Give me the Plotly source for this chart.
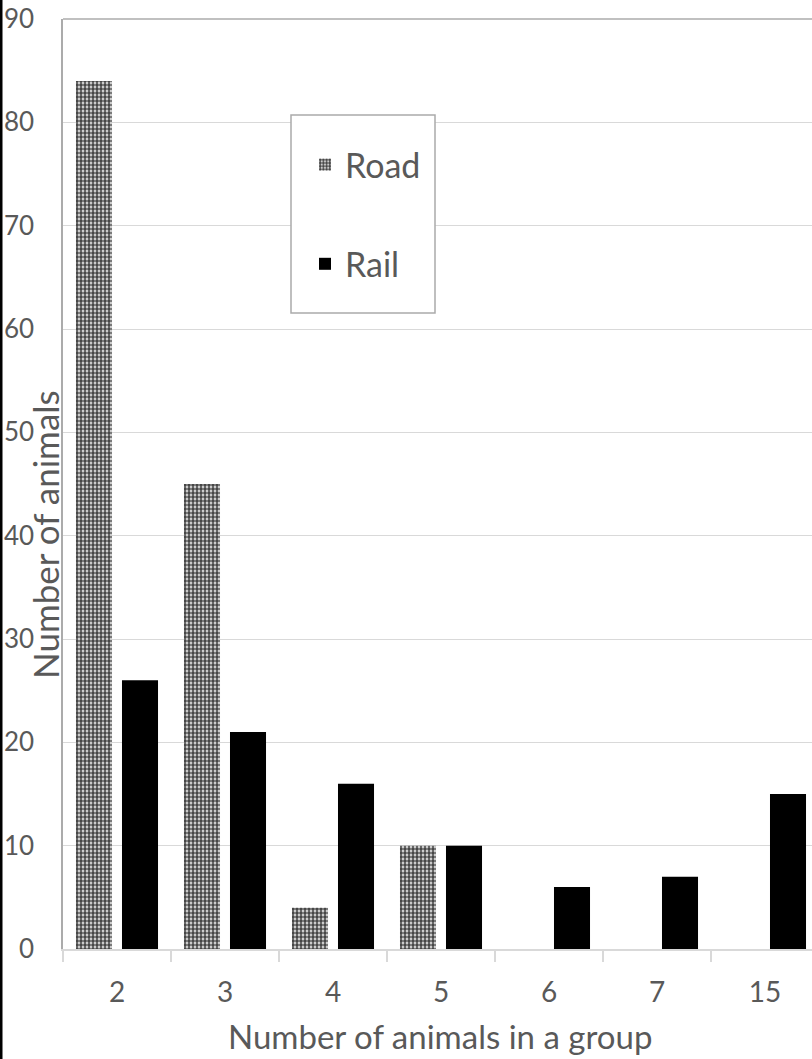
import plotly.graph_objects as go

# Group sizes and counts of animals per transport type
group_sizes = ["2", "3", "4", "5", "6", "7", "15"]
road_counts = [84, 45, 4, 10, 0, 0, 0]
rail_counts = [26, 21, 16, 10, 6, 7, 15]

y_ticks = [0, 10, 20, 30, 40, 50, 60, 70, 80, 90]

TEXT = "#595959"
GRID = "#d9d9d9"
BORDER = "#ababab"
FONT = "Lato"

W, H = 812, 1059
ML, MR, MT, MB = 63, 0, 19, 110
PW = W - ML - MR
PH = H - MT - MB


def px_x(p):
    return (p - ML) / PW


def px_y(p):
    return (H - MB - p) / PH


fig = go.Figure()

fig.add_trace(go.Bar(
    name="Road", x=group_sizes, y=road_counts,
    legendgroup="road",
    marker=dict(
        color="white",
        line=dict(width=0),
        pattern=dict(shape=".", fgcolor="#474747", bgcolor="white",
                     size=4, solidity=0.7, fillmode="replace"),
    ),
))
fig.add_trace(go.Bar(
    name="Rail", x=group_sizes, y=rail_counts,
    legendgroup="rail",
    marker=dict(color="black", line=dict(width=0)),
))

shapes = [
    # top border of the plot frame
    dict(type="line", xref="paper", yref="paper", x0=0, x1=1.02, y0=1, y1=1,
         line=dict(color=BORDER, width=1.5), layer="above"),
    # legend frame
    dict(type="rect", xref="paper", yref="paper",
         x0=px_x(291), x1=px_x(435), y0=px_y(313), y1=px_y(115),
         fillcolor="white", line=dict(color=BORDER, width=1.5), layer="above"),
    # dark strip on the left edge
    dict(type="rect", xref="paper", yref="paper",
         x0=px_x(0), x1=px_x(2.5), y0=px_y(H), y1=px_y(0),
         fillcolor="black", line=dict(width=0), layer="above"),
]

annotations = [
    dict(text="Number of animals in a group", xref="paper", yref="paper",
         x=px_x(440), y=px_y(1036), xanchor="center", yanchor="middle",
         showarrow=False, font=dict(family=FONT, size=33, color=TEXT)),
    dict(text="Number of animals", xref="paper", yref="paper",
         x=px_x(45), y=px_y(535), xanchor="center", yanchor="middle",
         textangle=-90, showarrow=False,
         font=dict(family=FONT, size=35, color=TEXT)),
]

fig.update_layout(
    width=W, height=H,
    margin=dict(l=ML, r=MR, t=MT, b=MB, pad=0, autoexpand=False),
    paper_bgcolor="white", plot_bgcolor="white",
    barmode="group", bargap=0.148, bargroupgap=0.217,
    font=dict(family=FONT, color=TEXT),
    showlegend=True,
    legend=dict(
        x=px_x(305), y=px_y(136), xanchor="left", yanchor="top",
        bgcolor="rgba(0,0,0,0)", borderwidth=0,
        font=dict(family=FONT, size=34, color=TEXT),
        tracegroupgap=52, traceorder="grouped",
    ),
    shapes=shapes,
    annotations=annotations,
)

fig.update_xaxes(
    type="category", categoryorder="array", categoryarray=group_sizes,
    range=[-0.5, -0.5 + PW / 108.0],
    showline=True, linecolor=GRID, linewidth=1.5,
    ticks="outside", ticklen=11, tickcolor=GRID, tickwidth=1.5,
    tickson="boundaries",
    showgrid=False, automargin=False,
    tickfont=dict(family=FONT, size=28, color=TEXT),
    ticklabelstandoff=18,
)

fig.update_yaxes(
    range=[0, 90], tickvals=y_ticks,
    showgrid=True, gridcolor=GRID, gridwidth=1,
    zeroline=False, automargin=False,
    showline=True, linecolor=BORDER, linewidth=1.5,
    ticks="",
    tickfont=dict(family=FONT, size=26, color=TEXT),
    ticklabelstandoff=22,
)

fig.write_html("out.html")
